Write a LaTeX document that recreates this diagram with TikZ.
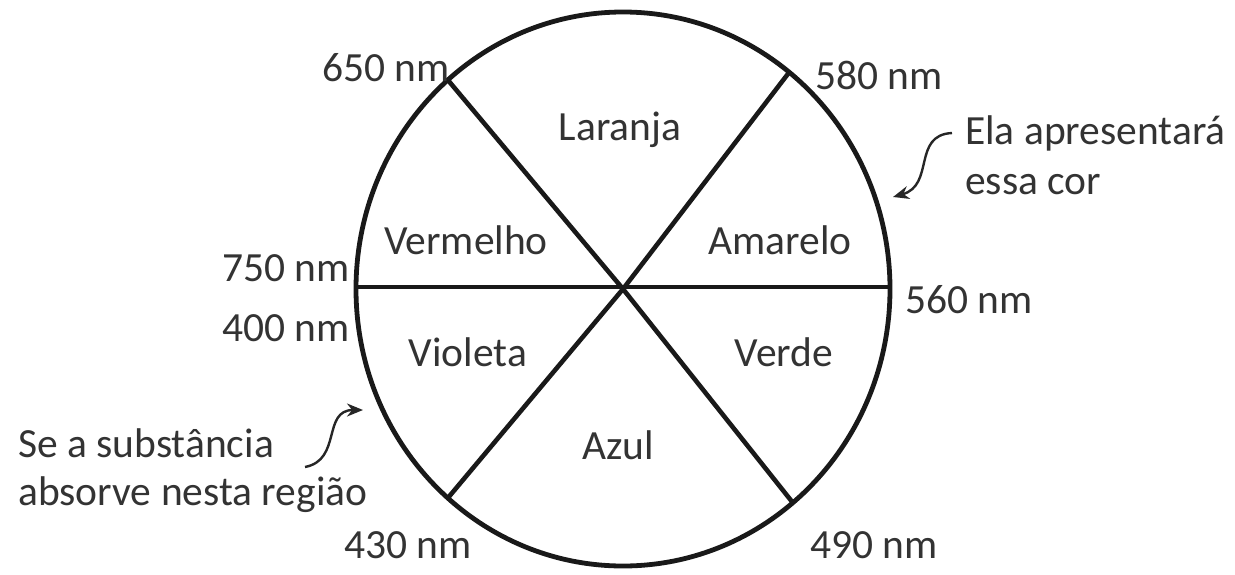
\documentclass[tikz,border=0pt]{standalone}
\usepackage{fontspec}
\setmainfont{Carlito}
\usetikzlibrary{arrows.meta}
\begin{document}
\begin{tikzpicture}[x=1pt,y=-1pt,
  lbl/.style={font=\fontsize{41.5}{48}\selectfont, text=black!80, inner sep=0pt, anchor=center},
  rim/.style={line width=4.8pt, black!90},
  spoke/.style={line width=4.6pt, black!90},
  curvearrow/.style={line width=2.4pt, black!85, -{Stealth[length=16pt,width=13pt]}}]
\useasboundingbox (0,0) rectangle (1235,574);
\coordinate (c) at (623,289);
\draw[rim] (c) ellipse [x radius=267pt, y radius=277pt];
\coordinate (p650) at ({623+267*cos(131)},{289-277*sin(131)});
\coordinate (p580) at ({623+267*cos(51.5)},{289-277*sin(51.5)});
\coordinate (p430) at ({623+267*cos(229)},{289-277*sin(229)});
\coordinate (p490) at ({623+267*cos(309.5)},{289-277*sin(309.5)});
\coordinate (p750) at (356,287);
\coordinate (p560) at (890,287);
\draw[spoke] (p650) -- (c) -- (p490);
\draw[spoke] (p580) -- (c) -- (p430);
\draw[spoke] (p750) -- (p560);
% sector labels
\node[lbl] (laranja) at (620,130) {Laranja};
\node[lbl] (vermelho) at (466,240) {Vermelho};
\node[lbl] (amarelo) at (780,240) {Amarelo};
\node[lbl] (violeta) at (468,352) {Violeta};
\node[lbl] (verde) at (784,352) {Verde};
\node[lbl] (azul) at (618,445) {Azul};
% wavelength labels
\node[lbl,anchor=east] (l650) at (450,68) {650 nm};
\node[lbl,anchor=west] (l580) at (815,75) {580 nm};
\node[lbl,anchor=east] (l750) at (350,268) {750 nm};
\node[lbl,anchor=west] (l560) at (905,300) {560 nm};
\node[lbl,anchor=east] (l400) at (350,328) {400 nm};
\node[lbl,anchor=east] (l430) at (472,545) {430 nm};
\node[lbl,anchor=west] (l490) at (810,545) {490 nm};
% annotations
\node[lbl,anchor=west] (ela1) at (965,133) {Ela apresentará};
\node[lbl,anchor=west] (ela2) at (965,185) {essa cor};
\node[lbl,anchor=west] (se1) at (18,443) {Se a substância};
\node[lbl,anchor=west] (se2) at (18,495) {absorve nesta região};
\coordinate (a1s) at (952,133);
\coordinate (a1e) at (893,197);
\coordinate (a2s) at (305,467);
\coordinate (a2e) at (363,410);
\draw[curvearrow] (a1s) .. controls (912,135) and (935,185) .. (a1e);
\draw[curvearrow] (a2s) .. controls (342,460) and (322,410) .. (a2e);
\end{tikzpicture}
\end{document}
